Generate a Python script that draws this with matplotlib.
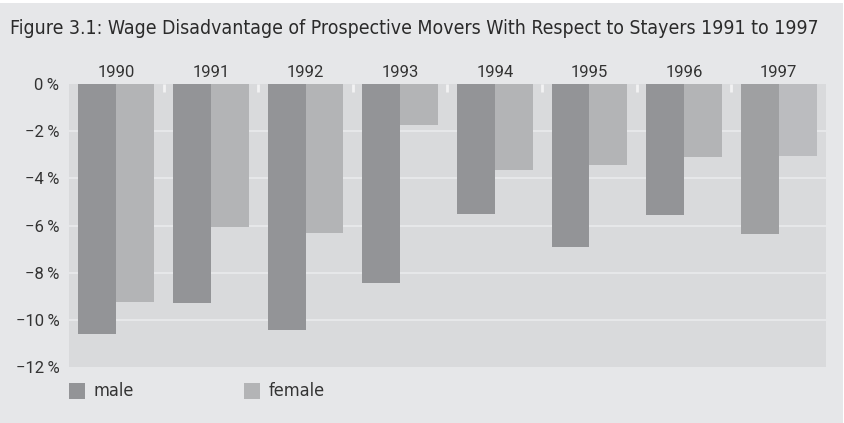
import numpy as np
import matplotlib.pyplot as plt
from matplotlib.patches import Rectangle

# Data (wage disadvantage, %)
years = ["1990", "1991", "1992", "1993", "1994", "1995", "1996", "1997"]
male = [-10.6, -9.3, -10.45, -8.45, -5.5, -6.9, -5.55, -6.35]
female = [-9.25, -6.05, -6.3, -1.75, -3.65, -3.45, -3.1, -3.05]
yticks = [0, -2, -4, -6, -8, -10, -12]

bg = "#e6e7e9"
plot_bg = "#d9dadc"
male_c = ["#939497"] * 7 + ["#9fa0a2"]
female_c = ["#b3b4b6"] * 7 + ["#bbbcbf"]
narrow = ["DejaVu Sans"]
num_font = ["Roboto", "DejaVu Sans"]

fig = plt.figure(figsize=(8.45, 4.23), dpi=100, facecolor="white")
# gray panel behind everything
fig.patches.append(Rectangle((0, 0), 843 / 845, 1 - 3 / 423, transform=fig.transFigure,
                             facecolor=bg, edgecolor="none", zorder=-10))

ax = fig.add_axes([69 / 845, 1 - 367 / 423, (826 - 69) / 845, 283 / 423])
ax.set_facecolor(plot_bg)

x = np.arange(len(years))
w = 0.4
ax.bar(x - w / 2, male, width=w, color=male_c, zorder=3)
ax.bar(x + w / 2, female, width=w, color=female_c, zorder=3)

ax.set_xlim(-0.5, len(years) - 0.5)
ax.set_ylim(-12, 0)

# horizontal grid lines
for v in yticks[1:-1]:
    ax.axhline(v, color="#e6e7e9", lw=1.5, zorder=1)

# small white separators at top between groups
for b in x[1:] - 0.5:
    ax.plot([b, b], [0, -0.32], color="#f2f2f3", lw=2, zorder=2, solid_capstyle="butt")

for s in ax.spines.values():
    s.set_visible(False)
ax.set_xticks([])
ax.set_yticks(yticks)
ax.set_yticklabels([("\u2212" if v < 0 else "") + f"{abs(v)}\u2009%" for v in yticks],
                   family=num_font, fontsize=12, color="#333333")
ax.tick_params(axis="y", length=0, pad=7)

# year labels above plot
for xi, yr in zip(x, years):
    ax.text(xi, 1.015, yr, transform=ax.get_xaxis_transform(), ha="center", va="bottom",
            family=num_font, fontsize=12, color="#333333")

title = fig.text(10 / 845, 1 - 29 / 423,
                 "Figure 3.1: Wage Disadvantage of Prospective Movers With Respect to Stayers 1991 to 1997",
                 family=narrow, fontstretch="condensed", fontsize=14.5, color="#2b2b2b",
                 va="center", ha="left")

# legend
for lx, label, c in [(69, "male", male_c[0]), (244, "female", female_c[0])]:
    fig.patches.append(Rectangle((lx / 845, 1 - 399 / 423), 16 / 845, 16 / 423,
                                 transform=fig.transFigure, facecolor=c, edgecolor="none"))
    fig.text((lx + 25) / 845, 1 - 391 / 423, label, family=narrow,
             fontstretch="condensed", fontsize=13, color="#333333",
             va="center", ha="left")

# squeeze the title to the width seen in the reference
renderer = fig.canvas.get_renderer()
wpx = title.get_window_extent(renderer).width
if wpx > 808:
    title.set_fontsize(title.get_fontsize() * 808 / wpx)

fig.savefig("out.png", dpi=100, facecolor=fig.get_facecolor())
